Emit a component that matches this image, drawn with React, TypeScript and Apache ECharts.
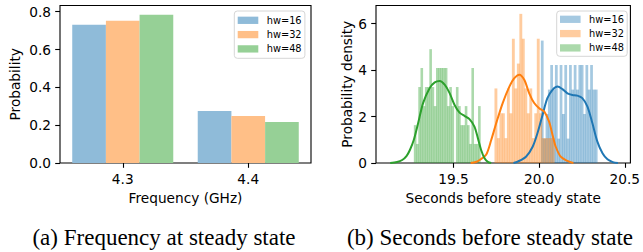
import React, { useEffect, useRef } from "react";
import * as echarts from "echarts";

// ---- Left chart: probability of each steady-state frequency ----
const freqCategories = ["4.3", "4.4"];
const seriesNames = ["hw=16", "hw=32", "hw=48"];
const probHw16 = [0.731, 0.275];
const probHw32 = [0.752, 0.249];
const probHw48 = [0.784, 0.217];
const leftYTicks = [0, 0.2, 0.4, 0.6, 0.8];

// ---- Right chart: histograms (density) + KDE ----
const rightXTicks = [19.5, 20.0, 20.5];
const rightYTicks = [0, 2, 4, 6];

const hist16Range = [20.01, 20.339];
const hist16Density = [5.27, 1.05, 2.11, 3.16, 4.22, 3.16, 4.22, 1.05, 4.22, 2.11, 4.22, 1.05, 4.22, 3.16, 4.22, 3.16, 4.22, 4.22, 2.11, 4.22, 3.16, 4.22, 3.16, 3.16];

const hist32Range = [19.739, 20.088];
const hist32Density = [3.21, 1.07, 2.14, 2.14, 1.07, 3.21, 2.14, 5.35, 3.21, 4.28, 6.42, 5.35, 3.21, 2.14, 3.21, 1.07, 2.14, 5.35, 2.14, 1.07, 1.07, 1.07, 1.07, 1.07];

const hist48Range = [19.268, 19.656];
const hist48Density = [1.63, 0.82, 3.27, 4.09, 2.45, 3.27, 3.27, 4.9, 3.27, 2.45, 4.09, 4.09, 4.09, 4.09, 4.09, 2.45, 3.27, 2.45, 0, 3.27, 2.45, 1.63, 1.63, 2.45, 1.63, 0.82, 4.09, 0.82, 0.82, 2.45];

const kde16X = [19.85, 19.875, 19.923, 19.962, 19.99, 20.02, 20.048, 20.078, 20.107, 20.136, 20.165, 20.194, 20.223, 20.252, 20.282, 20.311, 20.34, 20.37, 20.399, 20.43, 20.46];
const kde16Y = [0, 0.06, 0.27, 0.7, 1.28, 2.07, 2.79, 3.15, 3.29, 3.18, 3.0, 2.93, 2.9, 2.79, 2.43, 1.71, 0.92, 0.42, 0.16, 0.04, 0];

const kde32X = [19.6, 19.63, 19.652, 19.69, 19.72, 19.749, 19.787, 19.826, 19.855, 19.884, 19.913, 19.942, 19.971, 20.0, 20.03, 20.058, 20.078, 20.097, 20.126, 20.165, 20.2];
const kde32Y = [0, 0.04, 0.13, 0.35, 0.99, 1.71, 2.58, 3.29, 3.65, 3.8, 3.58, 3.0, 2.58, 2.36, 2.21, 1.78, 1.21, 0.7, 0.27, 0.09, 0];

const kde48X = [19.13, 19.17, 19.2, 19.225, 19.245, 19.268, 19.293, 19.322, 19.36, 19.39, 19.419, 19.448, 19.477, 19.506, 19.535, 19.564, 19.593, 19.622, 19.642, 19.661, 19.681, 19.7, 19.72];
const kde48Y = [0, 0.04, 0.13, 0.3, 0.56, 1.0, 1.71, 2.58, 3.22, 3.47, 3.53, 3.37, 3.01, 2.5, 2.17, 2.03, 1.89, 1.57, 1.07, 0.56, 0.2, 0.05, 0];

const captions = ["(a) Frequency at steady state", "(b) Seconds before steady state"];

const barColors = ["#8fbbd9", "#ffbf87", "#96d096"];
const lineColors = ["#1f77b4", "#ff7f0e", "#2ca02c"];
const histColors = ["rgba(31,119,180,0.4)", "rgba(255,127,14,0.4)", "rgba(44,160,44,0.4)"];

const FONT = "DejaVu Sans";
const TICK_FS = 13.7;

function histData(range: number[], dens: number[]) {
  const w = (range[1] - range[0]) / dens.length;
  return dens.map((d, i) => [range[0] + i * w, range[0] + (i + 1) * w, d]);
}

function zip(xs: number[], ys: number[]) {
  return xs.map((x, i) => [x, ys[i]]);
}

export default function App() {
  const ref = useRef<HTMLDivElement>(null);
  useEffect(() => {
    if (!ref.current) return;
    const chart = echarts.init(ref.current, undefined, { renderer: "svg" });
    const axisLineStyle = { color: "#000", width: 1.1 };
    const tick = (vals: number[] | null) => ({
      show: true,
      length: 4.8,
      lineStyle: axisLineStyle,
      ...(vals ? { customValues: vals } : {}),
    });
    const label = (vals: number[] | null, fmt: (v: number) => string) => ({
      fontSize: TICK_FS,
      fontFamily: FONT,
      color: "#000",
      margin: 9,
      formatter: fmt,
      ...(vals ? { customValues: vals } : {}),
    });
    const nameStyle = { fontSize: TICK_FS, fontFamily: FONT, color: "#000" };

    const rightSeriesName = (n: string) => n + "#b";
    const hists = [
      histData(hist16Range, hist16Density),
      histData(hist32Range, hist32Density),
      histData(hist48Range, hist48Density),
    ];
    const kdes = [zip(kde16X, kde16Y), zip(kde32X, kde32Y), zip(kde48X, kde48Y)];

    const rightSeries: any[] = [];
    for (let k = 0; k < 3; k++) {
      const color = histColors[k];
      rightSeries.push({
        type: "custom",
        name: rightSeriesName(seriesNames[k]),
        xAxisIndex: 1,
        yAxisIndex: 1,
        itemStyle: { color },
        encode: { x: [0, 1], y: 2 },
        renderItem: (params: any, api: any) => {
          const p0 = api.coord([api.value(0), api.value(2)]);
          const p1 = api.coord([api.value(1), 0]);
          return {
            type: "rect",
            shape: { x: p0[0], y: p0[1], width: p1[0] - p0[0] + 0.4, height: p1[1] - p0[1] },
            style: { fill: color },
          };
        },
        data: hists[k],
      });
      rightSeries.push({
        type: "line",
        xAxisIndex: 1,
        yAxisIndex: 1,
        data: kdes[k],
        smooth: 0.3,
        showSymbol: false,
        symbol: "none",
        lineStyle: { color: lineColors[k], width: 2 },
        itemStyle: { color: lineColors[k] },
      });
    }

    const legendCommon = {
      orient: "vertical",
      icon: "rect",
      itemWidth: 20.6,
      itemHeight: 7.3,
      itemGap: 2.3,
      borderColor: "#d6d6d6",
      borderWidth: 1,
      borderRadius: 3,
      backgroundColor: "rgba(255,255,255,0.8)",
      textStyle: { fontSize: 9.8, fontFamily: FONT, color: "#000", lineHeight: 12, padding: [0, 0, 0, 3.4] },
      formatter: (n: string) => n.split("#")[0],
      selectedMode: false,
    };

    chart.setOption({
      animation: false,
      backgroundColor: "#fff",
      textStyle: { fontFamily: FONT },
      grid: [
        { left: 60, top: 5.5, width: 251, height: 157.5, show: true, borderColor: "#000", borderWidth: 1.1, backgroundColor: "transparent" },
        { left: 376, top: 5.5, width: 255.7, height: 157.5, show: true, borderColor: "#000", borderWidth: 1.1, backgroundColor: "transparent" },
      ],
      xAxis: [
        {
          type: "category",
          gridIndex: 0,
          data: freqCategories,
          axisLine: { show: false },
          axisTick: { show: true, alignWithLabel: true, length: 4.8, lineStyle: axisLineStyle },
          axisLabel: { fontSize: TICK_FS, fontFamily: FONT, color: "#000", margin: 9 },
          name: "Frequency (GHz)",
          nameLocation: "middle",
          nameGap: 28,
          nameTextStyle: nameStyle,
        },
        {
          type: "value",
          gridIndex: 1,
          min: 19.047,
          max: 20.533,
          axisLine: { show: false },
          splitLine: { show: false },
          axisTick: tick(rightXTicks),
          axisLabel: label(rightXTicks, (v: number) => v.toFixed(1)),
          name: "Seconds before steady state",
          nameLocation: "middle",
          nameGap: 28,
          nameTextStyle: nameStyle,
        },
      ],
      yAxis: [
        {
          type: "value",
          gridIndex: 0,
          min: 0,
          max: 0.833,
          axisLine: { show: false },
          splitLine: { show: false },
          axisTick: tick(leftYTicks),
          axisLabel: label(leftYTicks, (v: number) => v.toFixed(1)),
          name: "Probability",
          nameLocation: "middle",
          nameGap: 38,
          nameTextStyle: nameStyle,
        },
        {
          type: "value",
          gridIndex: 1,
          min: 0,
          max: 6.78,
          axisLine: { show: false },
          splitLine: { show: false },
          axisTick: tick(rightYTicks),
          axisLabel: label(rightYTicks, (v: number) => String(v)),
          name: "Probability density",
          nameLocation: "middle",
          nameGap: 18,
          nameTextStyle: nameStyle,
        },
      ],
      legend: [
        { ...legendCommon, left: 234.3, top: 11, padding: [3.3, 3.3, 3.4, 3.4], data: seriesNames },
        { ...legendCommon, left: 556.7, top: 11, padding: [2.3, 3.3, 2.4, 3.3], data: seriesNames.map(rightSeriesName) },
      ],
      series: [
        { type: "bar", name: seriesNames[0], xAxisIndex: 0, yAxisIndex: 0, data: probHw16, itemStyle: { color: barColors[0] }, barGap: "0%", barCategoryGap: "19.5%" },
        { type: "bar", name: seriesNames[1], xAxisIndex: 0, yAxisIndex: 0, data: probHw32, itemStyle: { color: barColors[1] }, barGap: "0%", barCategoryGap: "19.5%" },
        { type: "bar", name: seriesNames[2], xAxisIndex: 0, yAxisIndex: 0, data: probHw48, itemStyle: { color: barColors[2] }, barGap: "0%", barCategoryGap: "19.5%" },
        ...rightSeries,
      ],
      graphic: [
        { type: "text", x: 164, y: 237.5, style: { text: captions[0], font: "23px 'Liberation Serif'", fill: "#000", align: "center", verticalAlign: "middle" } },
        { type: "text", x: 490, y: 237.5, style: { text: captions[1], font: "23px 'Liberation Serif'", fill: "#000", align: "center", verticalAlign: "middle" } },
      ],
    });
    return () => chart.dispose();
  }, []);
  return <div ref={ref} style={{ position: "absolute", left: 0, top: 0, width: 643, height: 252 }} />;
}
